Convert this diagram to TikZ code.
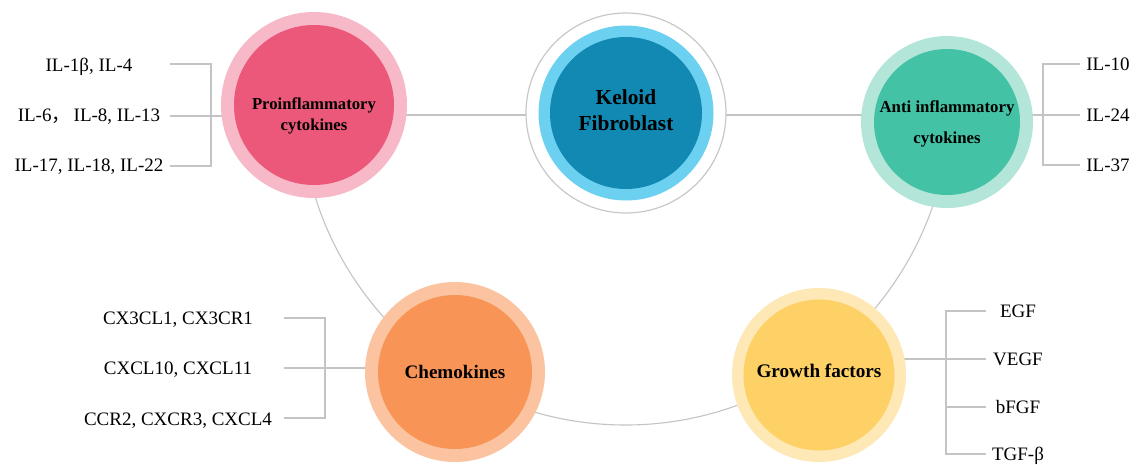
\documentclass[tikz,border=0pt]{standalone}
\usepackage{fontspec}
\setmainfont{Liberation Serif}
\newfontfamily\cjk{Noto Sans CJK SC}
\usetikzlibrary{backgrounds}
\definecolor{linegray}{HTML}{C4C4C4}
\definecolor{ringgray}{HTML}{C8C8C8}
\definecolor{proOut}{HTML}{F7B8C8}
\definecolor{proIn}{HTML}{EC5879}
\definecolor{kfOut}{HTML}{6CD0F0}
\definecolor{kfIn}{HTML}{1189B3}
\definecolor{antiOut}{HTML}{B3E6D9}
\definecolor{antiIn}{HTML}{43C2A6}
\definecolor{chemOut}{HTML}{FBC3A0}
\definecolor{chemIn}{HTML}{F89556}
\definecolor{gfOut}{HTML}{FEE8B6}
\definecolor{gfIn}{HTML}{FED167}
\tikzset{
  conn/.style={draw=linegray, line width=1.1pt},
  disc/.style={circle, inner sep=0pt, draw=none},
  lbl/.style={font=\fontsize{19}{22}\selectfont, inner sep=0pt, anchor=base},
  ctext/.style={align=center, inner sep=0pt, text=black}
}
\begin{document}
\begin{tikzpicture}[x=1pt,y=-1pt]
\useasboundingbox (0,0) rectangle (1141,464);

% circles
\node[disc, fill=proOut, minimum size=186pt] (pro) at (314,105) {};
\node[disc, fill=proIn, minimum size=160pt] (proin) at (pro.center) {};
\node[ctext, font=\bfseries\fontsize{16.7}{21}\selectfont] (protxt) at (314,116) {Proinflammatory\\cytokines};

\node[disc, draw=ringgray, line width=1.2pt, fill=white, minimum size=200pt] (kf) at (626,113) {};
\node[disc, fill=kfOut, minimum size=175pt] (kfmid) at (kf.center) {};
\node[disc, fill=kfIn, minimum size=152pt] (kfin) at (kf.center) {};
\node[ctext, font=\bfseries\fontsize{21.4}{26}\selectfont] (kftxt) at (626,110) {Keloid\\Fibroblast};

\node[disc, fill=antiOut, minimum size=172pt] (anti) at (947,122) {};
\node[disc, fill=antiIn, minimum size=146pt] (antiin) at (anti.center) {};
\node[ctext, font=\bfseries\fontsize{16.8}{31}\selectfont] (antitxt) at (947,124) {Anti inflammatory\\cytokines};

\node[disc, fill=chemOut, minimum size=180pt] (chem) at (455,372) {};
\node[disc, fill=chemIn, minimum size=154pt] (chemin) at (chem.center) {};
\node[ctext, font=\bfseries\fontsize{19.1}{23}\selectfont] (chemtxt) at (455,372) {Chemokines};

\node[disc, fill=gfOut, minimum size=174pt] (gf) at (819,375) {};
\node[disc, fill=gfIn, minimum size=151pt] (gfin) at (gf.center) {};
\node[ctext, font=\bfseries\fontsize{19.2}{23}\selectfont] (gftxt) at (819,371) {Growth factors};

% labels
\node[lbl] (p1) at (89,71.5) {IL-1β, IL-4};
\node[lbl] (p2) at (89,121.5) {IL-6{\cjk ，}\,IL-8, IL-13};
\node[lbl] (p3) at (89,171.5) {IL-17, IL-18, IL-22};

\node[lbl] (a1) at (1108,70.5) {IL-10};
\node[lbl] (a2) at (1108,121.5) {IL-24};
\node[lbl] (a3) at (1108,171.5) {IL-37};

\node[lbl] (c1) at (178,324.5) {CX3CL1, CX3CR1};
\node[lbl] (c2) at (178,374.5) {CXCL10, CXCL11};
\node[lbl] (c3) at (178,425.5) {CCR2, CXCR3, CXCL4};

\node[lbl] (g1) at (1018,317.5) {EGF};
\node[lbl] (g2) at (1018,365.5) {VEGF};
\node[lbl] (g3) at (1018,413.5) {bFGF};
\node[lbl] (g4) at (1018,460.5) {TGF-β};

% bracket anchor points
\coordinate (pb1) at (170,64);  \coordinate (pv1) at (211,64);
\coordinate (pb2) at (170,116);
\coordinate (pb3) at (170,166); \coordinate (pv3) at (211,166);

\coordinate (ab1) at (1080,64);  \coordinate (av1) at (1043,64);
\coordinate (ab2) at (1080,115);
\coordinate (ab3) at (1080,165); \coordinate (av3) at (1043,165);

\coordinate (cb1) at (284,318); \coordinate (cv1) at (325,318);
\coordinate (cb2) at (284,368);
\coordinate (cb3) at (284,418); \coordinate (cv3) at (325,418);

\coordinate (gb1) at (986,311); \coordinate (gv1) at (946,311);
\coordinate (gb2) at (986,359);
\coordinate (gb3) at (986,407); \coordinate (gv3) at (946,407);
\coordinate (gb4) at (986,454); \coordinate (gv4) at (946,454);

\coordinate (arcc) at (625.5,100);

\begin{scope}[on background layer]
  \fill[white] (0,0) rectangle (1141,464);
  % ring through the outer circles
  \draw[conn] ([xshift=-325pt]arcc) arc[start angle=180, end angle=0, radius=325];
  % top line
  \draw[conn] (pro.center |- 0,115) -- (kf.center |- 0,115) -- (anti.center |- 0,115);
  % brackets
  \draw[conn] (pb1) -- (pv1) -- (pv3) -- (pb3);
  \draw[conn] (pb2) -- (pro.center |- pb2);
  \draw[conn] (ab1) -- (av1) -- (av3) -- (ab3);
  \draw[conn] (ab2) -- (anti.center |- ab2);
  \draw[conn] (cb1) -- (cv1) -- (cv3) -- (cb3);
  \draw[conn] (cb2) -- (chem.center |- cb2);
  \draw[conn] (gb1) -- (gv1) -- (gv4) -- (gb4);
  \draw[conn] (gb3) -- (gv3);
  \draw[conn] (gb2) -- (gf.center |- gb2);
\end{scope}
\end{tikzpicture}
\end{document}
